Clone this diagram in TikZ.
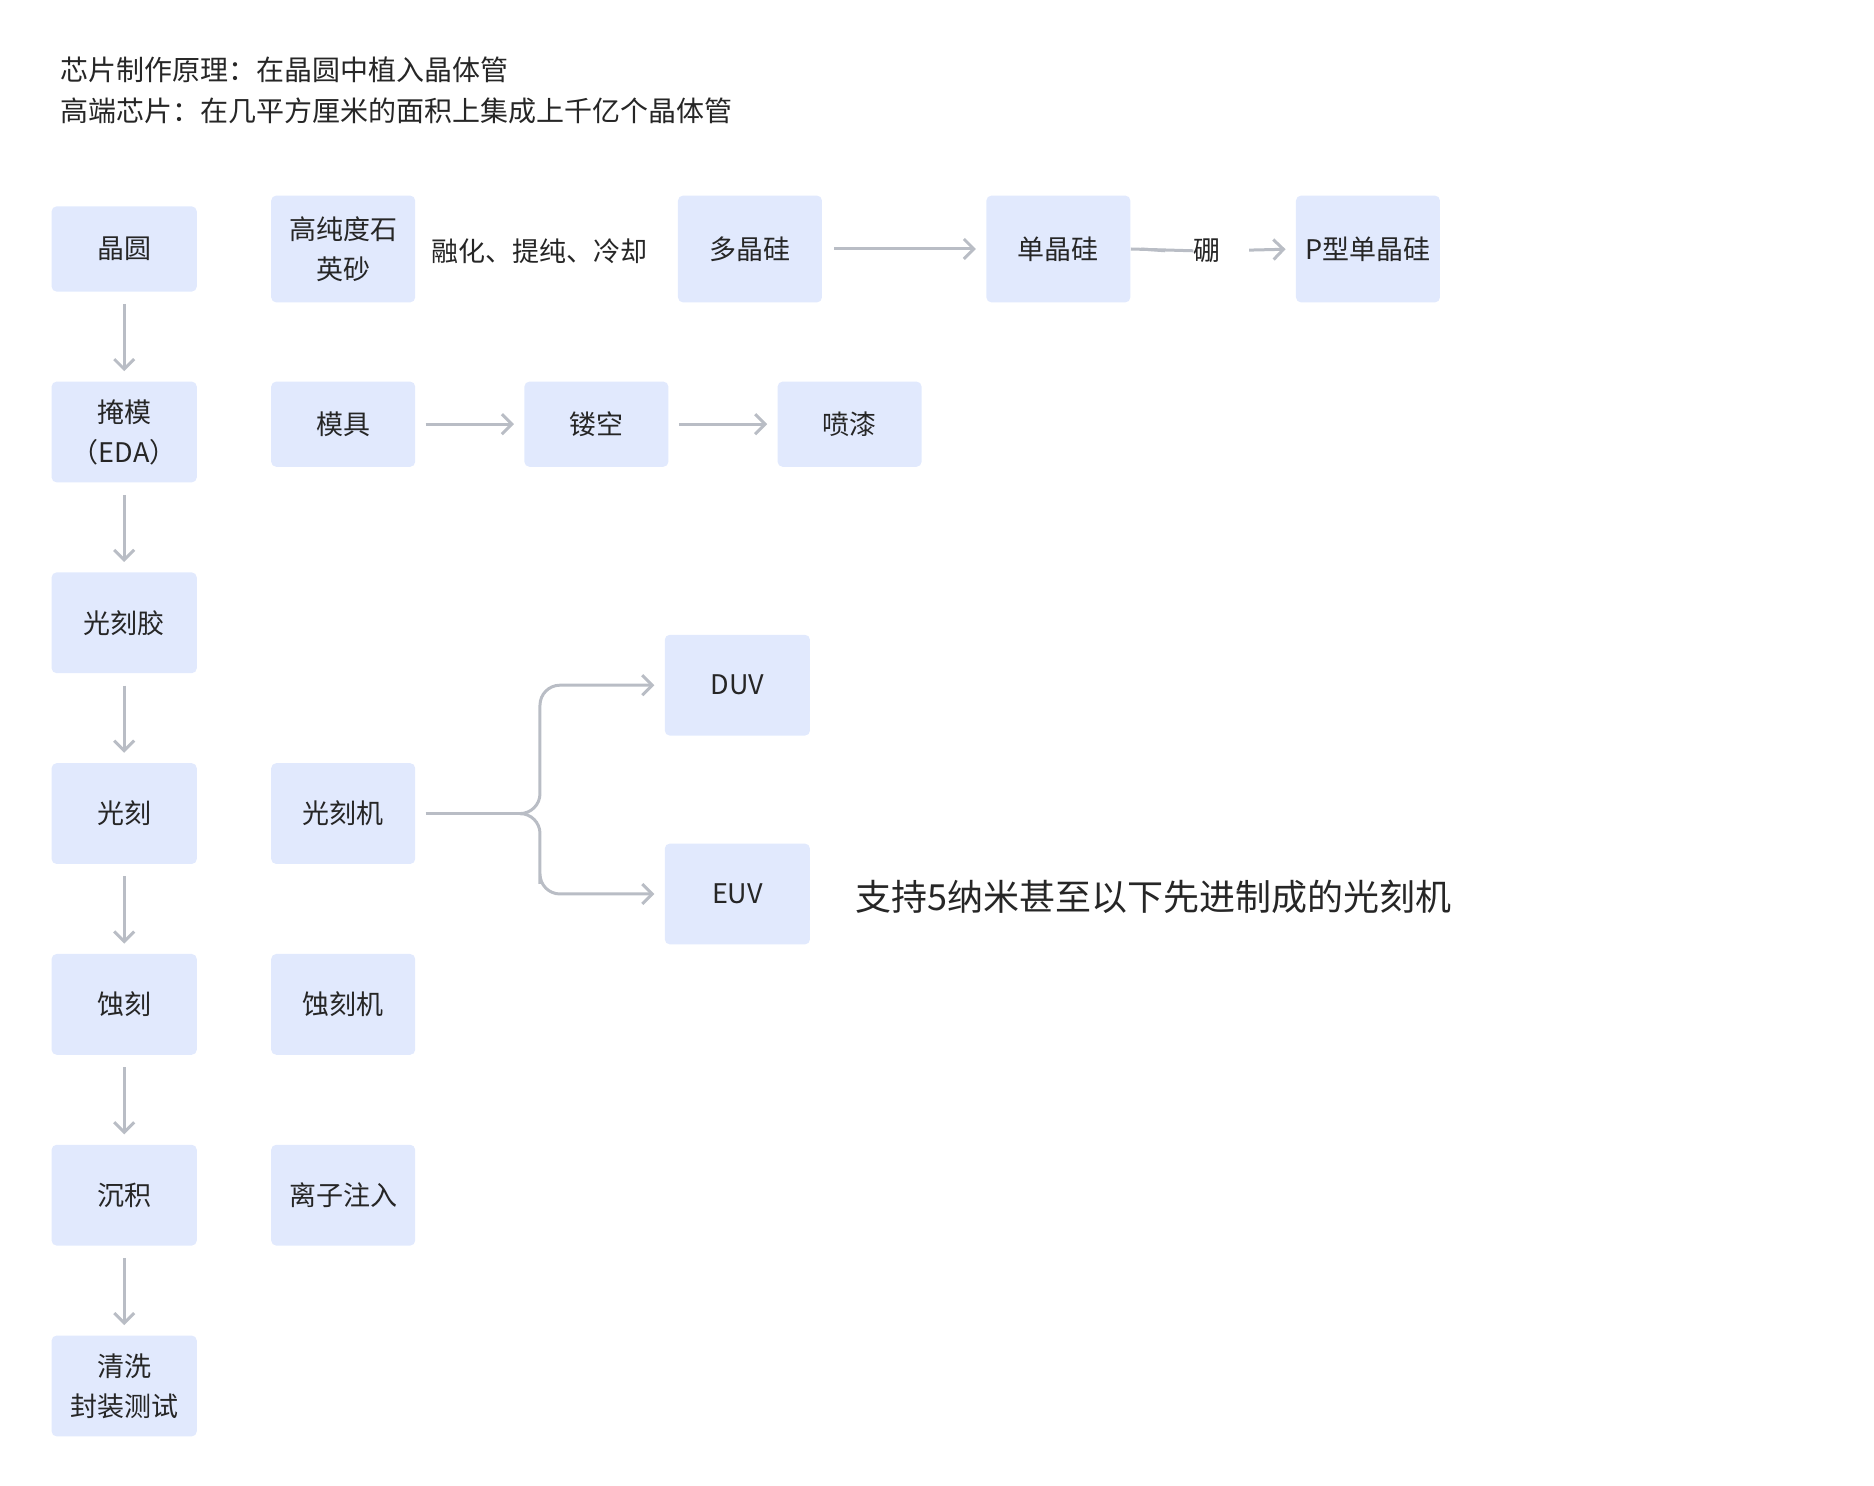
\documentclass[tikz,border=0pt]{standalone}
\usepackage{fontspec}
\setmainfont{Noto Sans CJK SC}
\usetikzlibrary{arrows.meta}
\definecolor{boxc}{HTML}{E1E9FD}
\definecolor{linec}{HTML}{B9BDC5}
\definecolor{txt}{HTML}{262626}
\begin{document}
\begin{tikzpicture}[x=0.6pt,y=-0.6pt,
  bx/.style={fill=boxc,rounded corners=2.5pt,inner sep=0pt,text=txt,font=\fontsize{13.5}{20}\selectfont,align=center},
  ar/.style={draw=linec,line width=1.5pt,-{Straight Barb[length=5pt,width=10pt]}},
  ln/.style={draw=linec,line width=1.5pt},
  lb/.style={text=txt,font=\fontsize{13.5}{20}\selectfont,inner sep=0pt}]
\useasboundingbox (0,0) rectangle (1561.7,1238.3);
\newcommand{\bxat}[6]{\node[bx,minimum width={(#4-#2)*0.6pt},minimum height={(#5-#3)*0.6pt}] (#1) at ({(#2+#4)/2},{(#3+#5)/2}) {#6};}
\node[anchor=west,text=txt,font=\fontsize{14}{20}\selectfont,inner sep=0pt] (h1) at (50,58) {芯片制作原理：在晶圆中植入晶体管};
\node[anchor=west,text=txt,font=\fontsize{14}{20}\selectfont,inner sep=0pt] (h2) at (50,92) {高端芯片：在几平方厘米的面积上集成上千亿个晶体管};
\bxat{a1}{43}{172}{164}{243}{晶圆}
\bxat{a2}{43}{318}{164}{402}{掩模\\（EDA）}
\bxat{a3}{43}{477}{164}{561}{光刻胶}
\bxat{a4}{43}{636}{164}{720}{光刻}
\bxat{a5}{43}{795}{164}{879}{蚀刻}
\bxat{a6}{43}{954}{164}{1038}{沉积}
\bxat{a7}{43}{1113}{164}{1197}{清洗\\封装测试}
\bxat{b1}{226}{163}{346}{252}{高纯度石\\英砂}
\bxat{b2}{565}{163}{685}{252}{多晶硅}
\bxat{b3}{822}{163}{942}{252}{单晶硅}
\bxat{b4}{1080}{163}{1200}{252}{P型单晶硅}
\bxat{c1}{226}{318}{346}{389}{模具}
\bxat{c2}{437}{318}{557}{389}{镂空}
\bxat{c3}{648}{318}{768}{389}{喷漆}
\bxat{d1}{226}{636}{346}{720}{光刻机}
\bxat{d2}{554}{529}{675}{613}{DUV}
\bxat{d3}{554}{703}{675}{787}{EUV}
\bxat{e1}{226}{795}{346}{879}{蚀刻机}
\bxat{e2}{226}{954}{346}{1038}{离子注入}
\node[lb] (t1) at (450,209) {融化、提纯、冷却};
\node[lb] (t2) at (1006,209) {硼};
\node[anchor=west,text=txt,font=\fontsize{18}{24}\selectfont,inner sep=0pt] (t3) at (713,747) {支持5纳米甚至以下先进制成的光刻机};
\foreach \p/\q in {a1/a2,a2/a3,a3/a4,a4/a5,a5/a6,a6/a7}
  \draw[ar,shorten <=6pt,shorten >=5pt] (\p.south) -- (\q.north);
\draw[ar,shorten <=6pt,shorten >=5pt] (b2.east) -- (b3.west);
\draw[ln,shorten <=5pt] (b3.east) -- (t2.west) ++(-14pt,0) coordinate (k) ;
\draw[ln] ([xshift=5pt]b3.east) -- ([xshift=-14pt]t2.west);
\draw[ar,shorten <=14pt,shorten >=5pt] (t2.east) -- (b4.west);
\draw[ar,shorten <=5pt,shorten >=5pt] (c1.east) -- (c2.west);
\draw[ar,shorten <=5pt,shorten >=5pt] (c2.east) -- (c3.west);
\coordinate (j) at (450,678);
\draw[ln,shorten <=5pt] (d1.east) -- (435,678);
\draw[ar,rounded corners=10pt,shorten >=5pt] (435,678) -| (450,640) |- (d2.west);
\draw[ar,rounded corners=10pt,shorten >=5pt] (435,678) -| (450,720) |- (d3.west);
\end{tikzpicture}
\end{document}
